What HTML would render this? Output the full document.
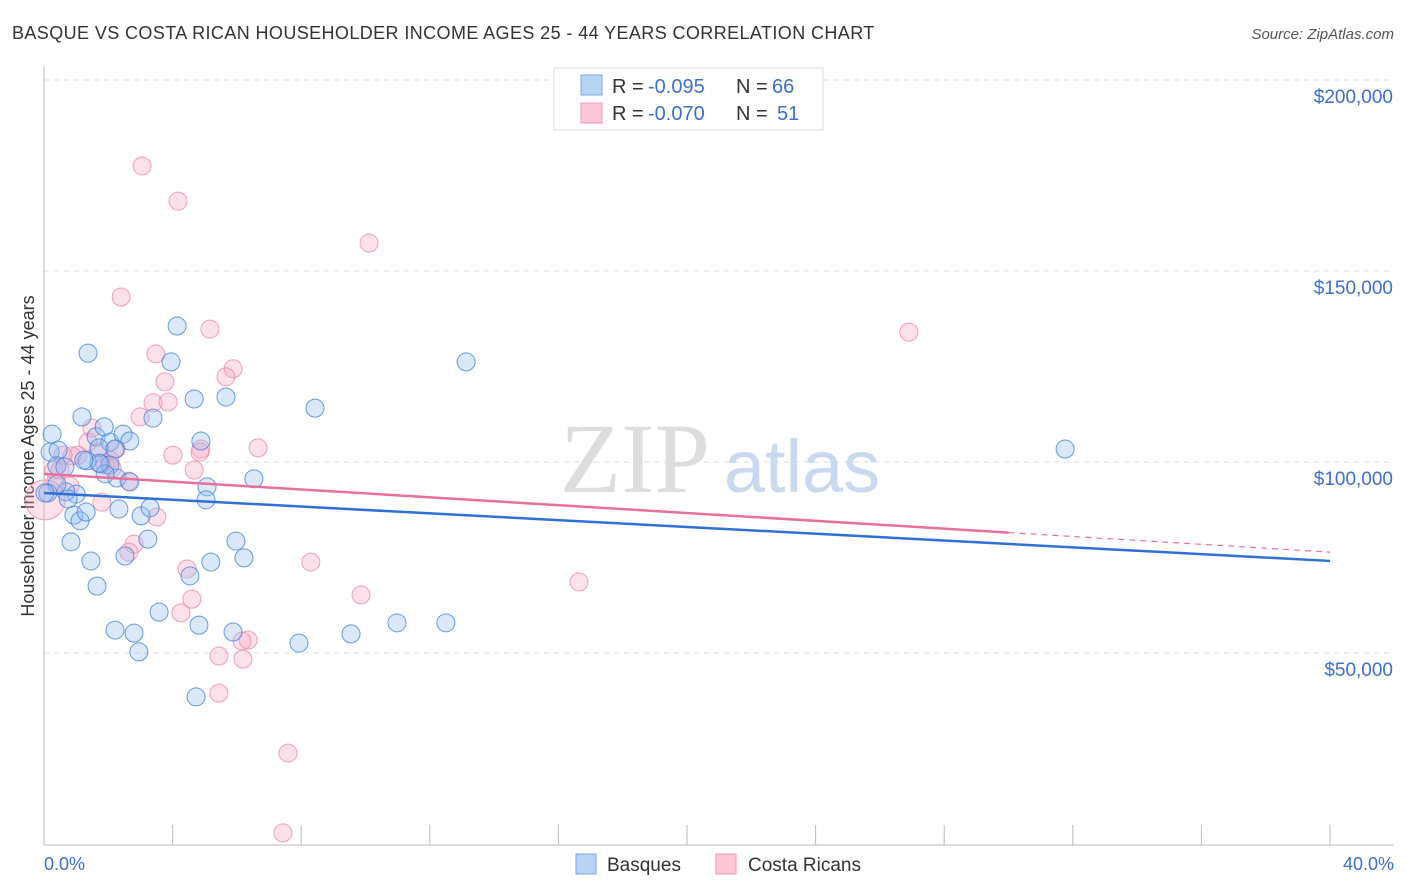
<!DOCTYPE html>
<html><head><meta charset="utf-8">
<style>
body{margin:0;background:#fff;font-family:"Liberation Sans",sans-serif;}
svg{display:block}
</style></head>
<body>
<svg id="chart" width="1406" height="892">
<text x="12" y="39" font-size="18" fill="#333" letter-spacing="0.4">BASQUE VS COSTA RICAN HOUSEHOLDER INCOME AGES 25 - 44 YEARS CORRELATION CHART</text>
<text x="1394" y="39" font-size="15" fill="#555" font-style="italic" text-anchor="end">Source: ZipAtlas.com</text>
<text transform="translate(34,456) rotate(-90)" font-size="18" fill="#333" text-anchor="middle">Householder Income Ages 25 - 44 years</text>
<g id="grid"></g>
<text x="635" y="492" font-size="100" fill="#ddd" font-family="Liberation Serif,serif" text-anchor="middle">ZIP</text>
<text x="802" y="492" font-size="74" fill="#c9daf0" text-anchor="middle">atlas</text>
<g id="pts"></g>
<g id="lines"></g>
<g>
<rect x="554" y="68" width="269" height="62" fill="#fff" stroke="#ddd"/>
<rect x="581" y="75" width="21" height="20" fill="#b9d3f3" stroke="#7aa8e3"/>
<rect x="581" y="103" width="21" height="20" fill="#fcc8d8" stroke="#ee98b3"/>
<text y="93" font-size="20" fill="#333"><tspan x="612">R =</tspan><tspan x="648" fill="#3b6fd0">-0.095</tspan><tspan x="736">N =</tspan><tspan x="772" fill="#3b6fd0">66</tspan></text>
<text y="120" font-size="20" fill="#333"><tspan x="612">R =</tspan><tspan x="648" fill="#3b6fd0">-0.070</tspan><tspan x="736">N =</tspan><tspan x="777" fill="#3b6fd0">51</tspan></text>
</g>
<g>
<rect x="576" y="854" width="20" height="20" fill="#b9d3f3" stroke="#7aa8e3"/>
<text x="607" y="871" font-size="19" fill="#333">Basques</text>
<rect x="716" y="854" width="20" height="20" fill="#fcc8d8" stroke="#ee98b3"/>
<text x="748" y="871" font-size="19" fill="#333">Costa Ricans</text>
</g>
<text x="44" y="870" font-size="18" fill="#3b6fd0">0.0%</text>
<text x="1394" y="870" font-size="18" fill="#3b6fd0" text-anchor="end">40.0%</text>
</svg>
<script>
const yTicks=[50000,100000,150000,200000];
const yTickLabels=["$50,000","$100,000","$150,000","$200,000"];
const xTicks=[0,4,8,12,16,20,24,28,32,36,40];
const basqueX=[0.25,0.19,0.44,0.40,0.65,1.18,1.37,1.62,1.87,2.05,1.71,2.46,2.67,2.21,1.77,1.34,2.05,2.27,1.90,2.67,1.00,0.68,0.40,0.75,0.12,0.93,1.12,1.31,2.33,3.02,3.30,3.23,0.84,1.46,1.65,2.52,2.21,2.80,2.95,3.58,4.14,3.95,3.39,4.67,4.88,5.07,5.04,5.66,6.53,5.97,6.22,5.19,4.54,4.82,5.88,4.73,7.93,9.55,10.98,12.50,8.43,13.13,31.76,0.03,1.71,1.24];
const basqueY=[107.3,102.6,103.1,99.0,98.7,111.8,128.5,106.6,109.2,105.2,103.7,107.3,105.5,103.4,99.5,100.3,99.2,95.8,96.9,94.8,91.6,92.2,94.2,90.3,91.9,86.1,84.6,86.9,87.7,85.9,88.0,79.8,79.1,74.1,67.5,75.4,56.0,55.2,50.3,60.7,135.6,126.2,111.5,116.5,105.5,93.5,90.1,117.0,95.6,79.3,74.9,73.8,70.2,57.3,55.5,38.5,52.6,55.0,57.9,57.9,114.1,126.2,103.4,91.9,99.7,100.5];
const costaX=[3.05,4.17,10.11,2.40,5.16,26.90,3.48,5.88,3.76,5.66,3.39,3.86,2.99,1.49,1.37,1.06,1.68,2.24,0.87,0.31,0.34,0.81,6.66,4.88,4.01,4.67,2.05,2.64,1.80,3.51,0.03,2.80,2.64,8.30,4.45,4.26,4.60,9.86,16.64,6.35,6.16,5.44,6.19,5.44,7.59,7.43,4.85,0.50,1.90,2.12,0.59];
const costaY=[177.5,168.3,157.3,143.2,134.8,134.0,128.3,124.4,121.0,122.3,115.5,115.7,111.8,108.9,105.2,101.8,102.6,103.4,101.6,97.9,94.5,93.7,103.7,103.4,101.8,97.9,100.5,95.0,89.5,85.6,90.1,78.5,76.4,73.8,72.0,60.5,64.1,65.2,68.6,53.4,53.1,49.2,48.4,39.5,23.8,2.9,102.6,97.9,99.2,98.4,101.8];
const basqueTrend=[91.9,74.1];
const costaTrend=[96.9,76.4];
const NS="http://www.w3.org/2000/svg";
const xs=p=>44+p*32.15;
const ys=k=>844-k*1000/50000*191;
function mk(tag,attrs,parent){const e=document.createElementNS(NS,tag);for(const k in attrs)e.setAttribute(k,attrs[k]);parent.appendChild(e);return e;}
const grid=document.getElementById('grid');
yTicks.forEach((v,i)=>{
  const l=mk('line',{x1:44,x2:1394,y1:ys(v/1000),y2:ys(v/1000),stroke:'#ddd','stroke-dasharray':'5,5'},grid);
  
  
  const t=mk('text',{x:1393,y:ys(v/1000)+23,'font-size':19,fill:'#3b6fd0','text-anchor':'end'},grid);
  t.textContent=yTickLabels[i];
  
  
});
mk('line',{x1:44,x2:44,y1:66,y2:845,stroke:'#bbb'},grid);
mk('line',{x1:44,x2:1394,y1:845,y2:845,stroke:'#bbb'},grid);
mk('line',{x1:44,x2:1394,y1:80,y2:80,stroke:'#ddd','stroke-dasharray':'5,5'},grid);
xTicks.forEach(p=>{
  const l=mk('line',{x1:xs(p),x2:xs(p),y1:825,y2:845,stroke:'#bbb'},grid);
  
  
});
const pts=document.getElementById('pts');
costaX.forEach((p,i)=>{
  const c=mk('circle',{cx:xs(p),cy:ys(costaY[i]),r:(i===30?20:9),fill:'rgba(248,170,195,0.35)',stroke:'rgba(236,130,165,0.75)','stroke-width':1},pts);
  
  
});
basqueX.forEach((p,i)=>{
  const c=mk('circle',{cx:xs(p),cy:ys(basqueY[i]),r:9,fill:'rgba(150,190,240,0.35)',stroke:'rgba(70,130,220,0.8)','stroke-width':1},pts);
  
  
});
const lines=document.getElementById('lines');
const bl=mk('line',{x1:xs(0),y1:ys(basqueTrend[0]),x2:xs(40),y2:ys(basqueTrend[1]),stroke:'#2f6fd6','stroke-width':2.5},lines);


const cy30=costaTrend[0]+(costaTrend[1]-costaTrend[0])*0.75;
const cl=mk('line',{x1:xs(0),y1:ys(costaTrend[0]),x2:xs(30),y2:ys(cy30),stroke:'#e8709a','stroke-width':2.5},lines);


const cd=mk('line',{x1:xs(30),y1:ys(cy30),x2:xs(40),y2:ys(costaTrend[1]),stroke:'#e8709a','stroke-width':1.2,'stroke-dasharray':'6,5'},lines);


</script>
</body></html>
